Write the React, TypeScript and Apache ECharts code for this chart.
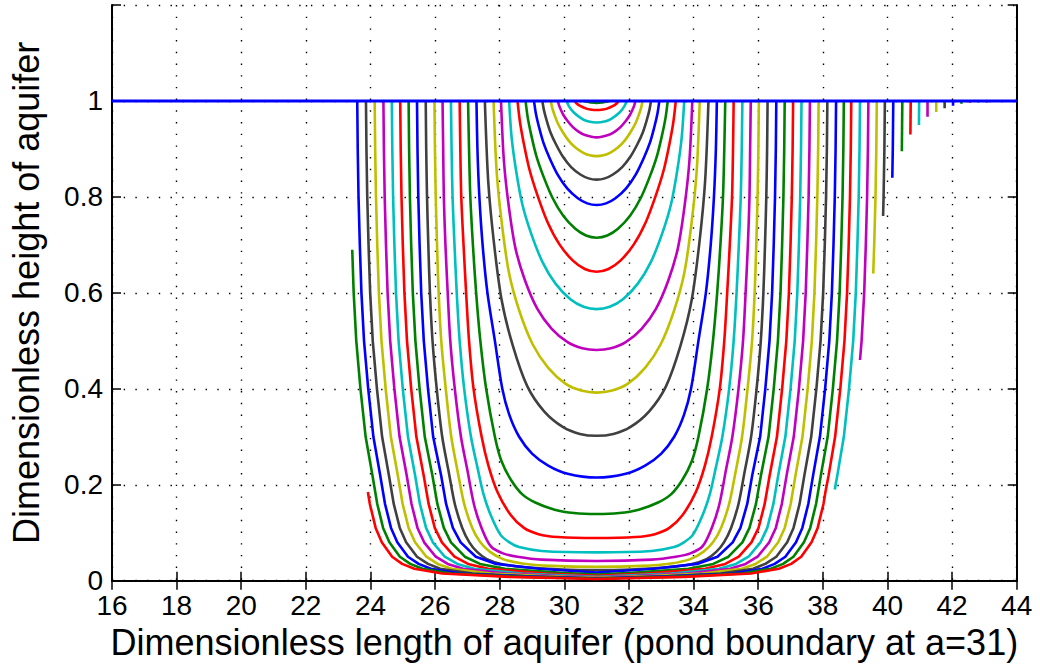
import React, { useEffect, useRef } from "react";
import * as echarts from "echarts";

// ---- axes ----
const X_MIN = 16;
const X_MAX = 44;
const X_STEP = 2;
const Y_MIN = 0;
const Y_MAX = 1.2;
const Y_STEP = 0.2;
const X_TITLE = "Dimensionless length of aquifer (pond boundary at a=31)";
const Y_TITLE = "Dimensionless height of aquifer";

// MATLAB colour order b g r c m y k (curve n uses COLORS[n % 7])
const COLORS = ["#0000ff", "#008000", "#ff0000", "#00bfbf", "#bf00bf", "#bfbf00", "#404040"];

// pond boundary (profiles are symmetric about it)
const POND_CENTRE = 31;

// Half profiles: left side, from the top of the wall (y = 1) down to the pond centre.
const CURVE_1 = [[30.6, 1], [30.7, 0.9982], [30.81, 0.997], [31, 0.996]];
const CURVE_2 = [[30.32, 1], [30.374, 0.9953], [30.49, 0.9896], [30.68, 0.984], [30.8, 0.9822], [31, 0.981]];
const CURVE_3 = [[30.07, 1], [30.144, 0.9888], [30.3, 0.9753], [30.56, 0.9622], [30.72, 0.9579], [31, 0.955]];
const CURVE_4 = [[29.8, 1], [29.836, 0.9909], [29.896, 0.981], [29.98, 0.9696], [30.1, 0.9582], [30.256, 0.946], [30.436, 0.9362], [30.64, 0.9289], [31, 0.924]];
const CURVE_5 = [[29.58, 1], [29.623, 0.9862], [29.694, 0.9713], [29.793, 0.954], [29.935, 0.9368], [30.12, 0.9184], [30.333, 0.9034], [30.574, 0.8925], [30.787, 0.8868], [31, 0.885]];
const CURVE_6 = [[29.32, 1], [29.37, 0.9803], [29.454, 0.959], [29.572, 0.9344], [29.74, 0.9098], [29.958, 0.8836], [30.21, 0.8622], [30.496, 0.8467], [30.748, 0.8386], [31, 0.836]];
const CURVE_7 = [[29.06, 1], [29.118, 0.974], [29.215, 0.9458], [29.351, 0.9132], [29.545, 0.8807], [29.797, 0.8459], [30.088, 0.8177], [30.418, 0.7971], [30.709, 0.7865], [31, 0.783]];
const CURVE_8 = [[28.8, 1], [28.866, 0.9658], [28.976, 0.9288], [29.13, 0.886], [29.35, 0.8433], [29.636, 0.7977], [29.966, 0.7606], [30.34, 0.7335], [30.67, 0.7196], [31, 0.715]];
const CURVE_9 = [[28.55, 1], [28.624, 0.9573], [28.746, 0.911], [28.918, 0.8576], [29.163, 0.8042], [29.481, 0.7472], [29.849, 0.701], [30.265, 0.6671], [30.633, 0.6497], [31, 0.644]];
const CURVE_10 = [[28.29, 1], [28.371, 0.9219], [28.507, 0.8546], [28.697, 0.7852], [28.968, 0.7244], [29.32, 0.6647], [29.726, 0.6192], [30.187, 0.5866], [30.594, 0.571], [31, 0.566]];
const CURVE_11 = [[28.04, 1], [28.129, 0.8754], [28.277, 0.782], [28.484, 0.6938], [28.78, 0.6263], [29.165, 0.5666], [29.609, 0.5251], [30.112, 0.4966], [30.556, 0.4846], [31, 0.481]];
const CURVE_12 = [[27.81, 1], [27.904, 0.854], [28.065, 0.7446], [28.288, 0.6413], [28.608, 0.5622], [29.022, 0.4923], [29.501, 0.4437], [30.043, 0.4102], [30.522, 0.3963], [31, 0.392]];
const CURVE_13 = [[27.54, 1], [27.644, 0.8325], [27.817, 0.7068], [28.059, 0.585], [28.405, 0.49], [28.855, 0.405], [29.374, 0.353], [29.962, 0.32], [30.481, 0.306], [31, 0.302]];
const CURVE_14 = [[27.28, 1], [27.31, 0.9], [27.37, 0.8], [27.47, 0.7], [27.62, 0.6], [27.85, 0.5], [28.08, 0.4], [28.3, 0.345], [28.6, 0.3], [29.0, 0.265], [29.5, 0.24], [30.1, 0.223], [31, 0.215]];
const CURVE_15 = [[27.02, 1], [27.05, 0.9], [27.09, 0.8], [27.17, 0.7], [27.27, 0.6], [27.4, 0.5], [27.58, 0.4], [27.85, 0.3], [28.05, 0.25], [28.35, 0.21], [28.7, 0.18], [29.1, 0.163], [29.7, 0.148], [30.3, 0.141], [31, 0.139]];
const CURVE_16 = [[26.76, 1], [26.78, 0.9], [26.81, 0.8], [26.88, 0.7], [26.96, 0.6], [27.05, 0.5], [27.19, 0.4], [27.44, 0.3], [27.65, 0.24], [27.93, 0.185], [28.34, 0.137], [28.75, 0.11], [29.2, 0.097], [29.8, 0.091], [31, 0.089]];
const CURVE_17 = [[26.49, 1], [26.51, 0.9], [26.54, 0.8], [26.6, 0.7], [26.67, 0.6], [26.76, 0.5], [26.9, 0.4], [27.11, 0.3], [27.33, 0.23], [27.5, 0.18], [27.72, 0.137], [28.03, 0.095], [28.3, 0.08], [28.6, 0.07], [29.3, 0.062], [31, 0.059]];
const CURVE_18 = [[26.23, 1], [26.25, 0.9], [26.27, 0.8], [26.32, 0.7], [26.39, 0.6], [26.47, 0.5], [26.61, 0.4], [26.8, 0.3], [27.0, 0.23], [27.2, 0.16], [27.42, 0.113], [27.72, 0.072], [28.1, 0.057], [28.55, 0.05], [29.3, 0.044], [31, 0.041]];
const CURVE_19 = [[25.98, 1], [25.995, 0.9], [26.02, 0.8], [26.06, 0.7], [26.11, 0.6], [26.19, 0.5], [26.33, 0.4], [26.5, 0.3], [26.72, 0.22], [26.9, 0.16], [27.15, 0.11], [27.4, 0.08], [27.7, 0.06], [28.1, 0.045], [28.7, 0.036], [29.6, 0.031], [31, 0.029]];
const CURVE_20 = [[25.71, 1], [25.725, 0.9], [25.75, 0.8], [25.79, 0.7], [25.84, 0.6], [25.92, 0.5], [26.05, 0.4], [26.22, 0.3], [26.44, 0.22], [26.61, 0.16], [26.84, 0.11], [27.06, 0.08], [27.3, 0.06], [27.6, 0.045], [28.05, 0.035], [28.8, 0.028], [29.8, 0.024], [31, 0.022]];
const CURVE_21 = [[25.44, 1], [25.455, 0.9], [25.48, 0.8], [25.52, 0.7], [25.57, 0.6], [25.65, 0.5], [25.78, 0.4], [25.94, 0.3], [26.185, 0.22], [26.34, 0.16], [26.55, 0.11], [26.79, 0.08], [27.26, 0.05], [27.89, 0.035], [29.22, 0.025], [31, 0.017]];
const CURVE_22 = [[25.18, 1], [25.195, 0.9], [25.22, 0.8], [25.26, 0.7], [25.31, 0.6], [25.39, 0.5], [25.52, 0.4], [25.68, 0.3], [25.915, 0.22], [26.07, 0.16], [26.27, 0.11], [26.49, 0.08], [26.92, 0.05], [27.39, 0.035], [28.16, 0.025], [29.9, 0.0165], [31, 0.013]];
const CURVE_23 = [[24.92, 1], [24.935, 0.9], [24.96, 0.8], [25.0, 0.7], [25.05, 0.6], [25.13, 0.5], [25.26, 0.4], [25.42, 0.3], [25.645, 0.22], [25.8, 0.16], [25.99, 0.11], [26.21, 0.08], [26.6, 0.05], [27.02, 0.035], [27.64, 0.025], [29.42, 0.015], [31, 0.01]];
const CURVE_24 = [[24.66, 1], [24.675, 0.9], [24.7, 0.8], [24.74, 0.7], [24.79, 0.6], [24.87, 0.5], [25.0, 0.4], [25.16, 0.3], [25.38, 0.22], [25.53, 0.16], [25.72, 0.11], [25.93, 0.08], [26.3, 0.05], [26.69, 0.035], [27.21, 0.025], [28.66, 0.015], [31, 0.008]];
const CURVE_25 = [[24.4, 1], [24.415, 0.9], [24.44, 0.8], [24.48, 0.7], [24.53, 0.6], [24.61, 0.5], [24.74, 0.4], [24.9, 0.3], [25.12, 0.22], [25.27, 0.16], [25.455, 0.11], [25.66, 0.08], [26.02, 0.05], [26.39, 0.035], [26.87, 0.025], [28.2, 0.015], [29.8, 0.0095], [31, 0.007]];
const CURVE_26 = [[24.13, 1], [24.145, 0.9], [24.17, 0.8], [24.21, 0.7], [24.26, 0.6], [24.34, 0.5], [24.47, 0.4], [24.63, 0.3], [24.845, 0.22], [24.995, 0.16], [25.18, 0.11], [25.38, 0.08], [25.73, 0.05], [26.08, 0.035], [26.51, 0.025], [27.73, 0.015], [29.5, 0.009], [31, 0.006]];
const CURVE_27 = [[23.86, 1], [23.875, 0.9], [23.9, 0.8], [23.94, 0.7], [23.99, 0.6], [24.07, 0.5], [24.2, 0.4], [24.36, 0.3], [24.57, 0.22], [24.72, 0.16], [24.907, 0.11], [25.103, 0.08], [25.44, 0.05], [25.78, 0.035], [26.16, 0.025], [27.16, 0.015], [29.0, 0.0085], [31, 0.005]];
const CURVE_28 = [[23.59, 1], [23.605, 0.9], [23.63, 0.8], [23.67, 0.7], [23.72, 0.6], [23.8, 0.5], [23.93, 0.4], [24.09, 0.3], [24.3, 0.22], [24.45, 0.16], [24.635, 0.11], [24.83, 0.08], [25.16, 0.05], [25.49, 0.035], [25.87, 0.025], [26.79, 0.015], [28.8, 0.009], [31, 0.0045]];
const CURVE_29 = [[23.35, 1], [23.365, 0.9], [23.39, 0.8], [23.435, 0.69], [23.48, 0.6], [23.56, 0.5], [23.69, 0.4], [23.85, 0.3], [24.06, 0.22], [24.21, 0.16], [24.39, 0.11], [24.585, 0.08], [24.91, 0.05], [25.23, 0.035], [25.61, 0.025], [26.5, 0.015], [28.5, 0.0085], [31, 0.004]];
const CURVE_30 = [[23.12, 1], [23.135, 0.9], [23.16, 0.8], [23.2, 0.7], [23.25, 0.6], [23.33, 0.5], [23.46, 0.4], [23.62, 0.3], [23.82, 0.22], [23.92, 0.185], [23.98, 0.16], [24.16, 0.11], [24.35, 0.08], [24.67, 0.05], [24.98, 0.035], [25.36, 0.025], [26.22, 0.015], [28.3, 0.008], [31, 0.0035]];

const HALF_PROFILES = [
  CURVE_1, CURVE_2, CURVE_3, CURVE_4, CURVE_5, CURVE_6, CURVE_7, CURVE_8, CURVE_9, CURVE_10,
  CURVE_11, CURVE_12, CURVE_13, CURVE_14, CURVE_15, CURVE_16, CURVE_17, CURVE_18, CURVE_19, CURVE_20,
  CURVE_21, CURVE_22, CURVE_23, CURVE_24, CURVE_25, CURVE_26, CURVE_27, CURVE_28, CURVE_29, CURVE_30,
];

// curves whose left wall only starts below the top (start height)
const LEFT_START_Y: Record<number, number> = { 29: 0.69, 30: 0.185 };

// curves 1..20 are rounded bowls (drawn smoothed); the deeper ones are drawn as read
const LAST_BOWL = 20;

// curves 31..48: only the upper part of their right wall is drawn
const STUB_31 = [[39.15, 1], [39.135, 0.9], [39.11, 0.8], [39.07, 0.7], [39.02, 0.6], [38.94, 0.5], [38.81, 0.4], [38.65, 0.3], [38.45, 0.22], [38.37, 0.19]];
const STUB_32 = [[39.41, 1], [39.395, 0.9], [39.37, 0.8], [39.33, 0.7], [39.28, 0.6], [39.2, 0.5], [39.15, 0.46]];
const STUB_33 = [[39.67, 1], [39.655, 0.9], [39.63, 0.8], [39.59, 0.7], [39.56, 0.64]];
const STUB_34 = [[39.92, 1], [39.905, 0.9], [39.88, 0.8], [39.865, 0.76]];
const STUB_35 = [[40.18, 1], [40.165, 0.9], [40.15, 0.84]];
const STUB_36 = [[40.46, 1], [40.445, 0.895]];
const STUB_37 = [[40.72, 1], [40.71, 0.93]];
const STUB_38 = [[40.98, 1], [40.975, 0.95]];
const STUB_39 = [[41.24, 1], [41.24, 0.967]];
const STUB_40 = [[41.51, 1], [41.51, 0.977]];
const STUB_41 = [[41.77, 1], [41.77, 0.985]];
const STUB_42 = [[42.03, 1], [42.03, 0.99]];
const STUB_43 = [[42.29, 1], [42.29, 0.994]];
const STUB_44 = [[42.55, 1], [42.55, 0.996]];
const STUB_45 = [[42.81, 1], [42.81, 0.997]];
const STUB_46 = [[43.07, 1], [43.07, 0.997]];
const STUB_47 = [[43.33, 1], [43.33, 0.998]];
const STUB_48 = [[43.59, 1], [43.59, 0.998]];
const RIGHT_STUBS = [
  STUB_31, STUB_32, STUB_33, STUB_34, STUB_35, STUB_36, STUB_37, STUB_38, STUB_39,
  STUB_40, STUB_41, STUB_42, STUB_43, STUB_44, STUB_45, STUB_46, STUB_47, STUB_48,
];
const FIRST_STUB_INDEX = 31;

// initial water table (drawn on top)
const INITIAL_LEVEL = [[16, 1], [44, 1]];

const FONT = "'Liberation Sans', Arial, Helvetica, sans-serif";
const LINE_W = 2.6;

function lineSeries(data: number[][], color: string, width = LINE_W, smooth: number | boolean = false) {
  return {
    type: "line",
    data,
    showSymbol: false,
    symbol: "none",
    smooth,
    silent: true,
    lineStyle: { color, width, join: "round", cap: "butt" },
    emphasis: { disabled: true },
  };
}

function buildSeries() {
  const out: any[] = [];
  HALF_PROFILES.forEach((half, k) => {
    const n = k + 1;
    const cut = LEFT_START_Y[n] ?? 1;
    const left = half.filter((p) => p[1] <= cut + 1e-9);
    const right = half
      .slice(0, -1)
      .reverse()
      .map(([x, y]) => [2 * POND_CENTRE - x, y]);
    out.push(lineSeries(left.concat(right), COLORS[n % 7], LINE_W, n <= LAST_BOWL ? 0.3 : false));
  });
  RIGHT_STUBS.forEach((pts, k) => {
    const n = FIRST_STUB_INDEX + k;
    out.push(lineSeries(pts, COLORS[n % 7]));
  });
  out.push(lineSeries(INITIAL_LEVEL, COLORS[0], 3));
  return out;
}

const dotted = { color: "#000", width: 1.4, type: [1.4, 10.3] as any };

export default function App() {
  const ref = useRef<HTMLDivElement>(null);
  useEffect(() => {
    if (!ref.current) return;
    const chart = echarts.init(ref.current, undefined, { renderer: "svg" });
    chart.setOption({
      animation: false,
      backgroundColor: "#fff",
      textStyle: { fontFamily: FONT },
      grid: { left: 109.5, right: 23.3, top: 5, bottom: 85.3, containLabel: false },
      xAxis: [
        {
          type: "value",
          min: X_MIN,
          max: X_MAX,
          interval: X_STEP,
          name: X_TITLE,
          nameLocation: "middle",
          nameGap: 35,
          nameTextStyle: { fontSize: 36, color: "#000", fontFamily: FONT },
          axisLine: { show: true, lineStyle: { color: "#000", width: 2 } },
          axisTick: { show: true, inside: true, length: 9, lineStyle: { color: "#000", width: 1.5 } },
          axisLabel: { fontSize: 28, color: "#000", margin: 11, fontFamily: FONT },
          splitLine: { show: true, lineStyle: dotted },
        },
        {
          type: "value",
          position: "top",
          min: X_MIN,
          max: X_MAX,
          interval: X_STEP,
          axisLine: { show: true, lineStyle: { color: "#000", width: 2 } },
          axisTick: { show: true, inside: true, length: 9, lineStyle: { color: "#000", width: 1.5 } },
          axisLabel: { show: false },
          splitLine: { show: false },
        },
      ],
      yAxis: [
        {
          type: "value",
          min: Y_MIN,
          max: Y_MAX,
          interval: Y_STEP,
          name: Y_TITLE,
          nameLocation: "middle",
          nameGap: 68,
          nameRotate: 90,
          nameTextStyle: { fontSize: 36, color: "#000", fontFamily: FONT },
          axisLine: { show: true, lineStyle: { color: "#000", width: 2 } },
          axisTick: { show: true, inside: true, length: 9, lineStyle: { color: "#000", width: 1.5 } },
          axisLabel: {
            fontSize: 28,
            color: "#000",
            margin: 9,
            fontFamily: FONT,
            formatter: (v: number) => (v > 1.1 ? "" : String(+v.toFixed(1))),
          },
          splitLine: { show: true, lineStyle: dotted },
        },
        {
          type: "value",
          position: "right",
          min: Y_MIN,
          max: Y_MAX,
          interval: Y_STEP,
          axisLine: { show: true, lineStyle: { color: "#000", width: 2 } },
          axisTick: { show: true, inside: true, length: 9, lineStyle: { color: "#000", width: 1.5 } },
          axisLabel: { show: false },
          splitLine: { show: false },
        },
      ],
      series: buildSeries(),
    });
    return () => chart.dispose();
  }, []);
  return (
    <div
      ref={ref}
      style={{ position: "fixed", left: 0, top: 0, width: 1040, height: 666, background: "#fff" }}
    />
  );
}
